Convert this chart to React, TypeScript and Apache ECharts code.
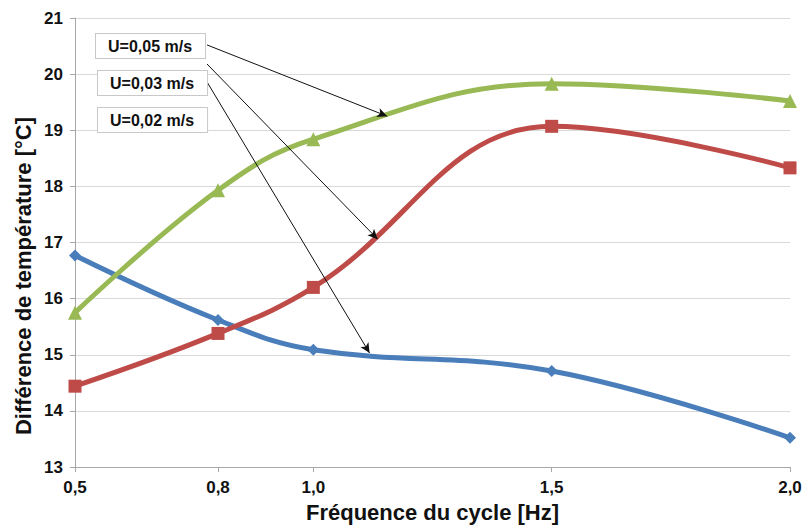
import React, { useEffect, useRef } from "react";
import * as echarts from "echarts";

const xValues = [0.5, 0.8, 1.0, 1.5, 2.0];
const xTicks = [0.5, 0.8, 1.0, 1.5, 2.0];
const u002 = [16.77, 15.62, 15.09, 14.71, 13.52];
const u003 = [14.44, 15.38, 16.2, 19.07, 18.33];
const u005 = [15.75, 17.93, 18.84, 19.83, 19.52];
const labels = ["U=0,02 m/s", "U=0,03 m/s", "U=0,05 m/s"];
const xTitle = "Fréquence du cycle [Hz]";
const yTitle = "Différence de température [°C]";
// arrow start/end in data coordinates
const arrow002 = [[0.777, 19.86], [1.118, 15.03]];
const arrow003 = [[0.777, 20.18], [1.135, 17.06]];
const arrow005 = [[0.777, 20.52], [1.155, 19.25]];

const FONT = "'Liberation Sans', Arial, sans-serif";

function pair(xs: number[], ys: number[]) {
  return xs.map((x, i) => [x, ys[i]]);
}

function arrowLine(a: number[][]) {
  return {
    silent: true,
    symbol: ["none", "arrow"],
    symbolSize: [7, 10],
    label: { show: false },
    lineStyle: { color: "#111", width: 1, type: "solid" },
    data: [[{ coord: a[0] }, { coord: a[1] }]],
  };
}

export default function App() {
  const ref = useRef<HTMLDivElement>(null);
  useEffect(() => {
    if (!ref.current) return;
    const chart = echarts.init(ref.current, null, { renderer: "svg" });
    const boxStyle = (text: string) => ({
      text,
      font: `bold 16px ${FONT}`,
      fill: "#111",
      backgroundColor: "#fff",
      borderColor: "#c8c8c8",
      borderWidth: 1,
      padding: [4, 13, 4, 12],
    });
    chart.setOption({
      animation: false,
      backgroundColor: "#fff",
      grid: { left: 75, right: 16, top: 18, bottom: 57, containLabel: false },
      xAxis: {
        type: "value",
        min: 0.5,
        max: 2.0,
        name: xTitle,
        nameLocation: "middle",
        nameGap: 34,
        nameTextStyle: { fontFamily: FONT, fontWeight: "bold", fontSize: 22, color: "#111" },
        axisLine: { show: true, lineStyle: { color: "#a8a8a8" } },
        axisTick: { show: true, customValues: xTicks, length: 5, inside: false, lineStyle: { color: "#a8a8a8" } },
        axisLabel: {
          customValues: xTicks,
          formatter: (v: number) => v.toFixed(1).replace(".", ","),
          fontFamily: FONT,
          fontWeight: "bold",
          fontSize: 17,
          color: "#111",
          margin: 12,
        },
        splitLine: { show: false },
      },
      yAxis: {
        type: "value",
        min: 13,
        max: 21,
        interval: 1,
        axisLine: { show: true, lineStyle: { color: "#a8a8a8" } },
        axisTick: { show: true, length: 5, lineStyle: { color: "#a8a8a8" } },
        axisLabel: { fontFamily: FONT, fontWeight: "bold", fontSize: 17, color: "#111", margin: 12 },
        splitLine: { show: true, lineStyle: { color: "#d9d9d9", width: 1 } },
      },
      series: [
        {
          name: labels[0],
          type: "line",
          smooth: 0.4,
          data: pair(xValues, u002),
          symbol: "diamond",
          symbolSize: 12,
          lineStyle: { color: "#4a7ebb", width: 5 },
          itemStyle: { color: "#4a7ebb" },
          markLine: arrowLine(arrow002),
          z: 3,
        },
        {
          name: labels[1],
          type: "line",
          smooth: 0.4,
          data: pair(xValues, u003),
          symbol: "rect",
          symbolSize: 13,
          lineStyle: { color: "#be4b48", width: 5 },
          itemStyle: { color: "#be4b48" },
          markLine: arrowLine(arrow003),
          z: 3,
        },
        {
          name: labels[2],
          type: "line",
          smooth: 0.4,
          data: pair(xValues, u005),
          symbol: "triangle",
          symbolSize: 14,
          lineStyle: { color: "#98b954", width: 5 },
          itemStyle: { color: "#98b954" },
          markLine: arrowLine(arrow005),
          z: 3,
        },
      ],
      graphic: [
        {
          type: "text",
          x: 23,
          y: 276,
          rotation: Math.PI / 2,
          style: {
            text: yTitle,
            font: `bold 22px ${FONT}`,
            fill: "#111",
            textAlign: "center",
            textVerticalAlign: "middle",
          },
        },
        { type: "text", left: 95, top: 33, style: boxStyle(labels[2]), z: 10 },
        { type: "text", left: 97, top: 70, style: boxStyle(labels[1]), z: 10 },
        { type: "text", left: 97, top: 107, style: boxStyle(labels[0]), z: 10 },
      ],
    });
    return () => chart.dispose();
  }, []);
  return (
    <div
      ref={ref}
      style={{ position: "fixed", left: 0, top: 0, width: 806, height: 528, background: "#fff" }}
    />
  );
}
